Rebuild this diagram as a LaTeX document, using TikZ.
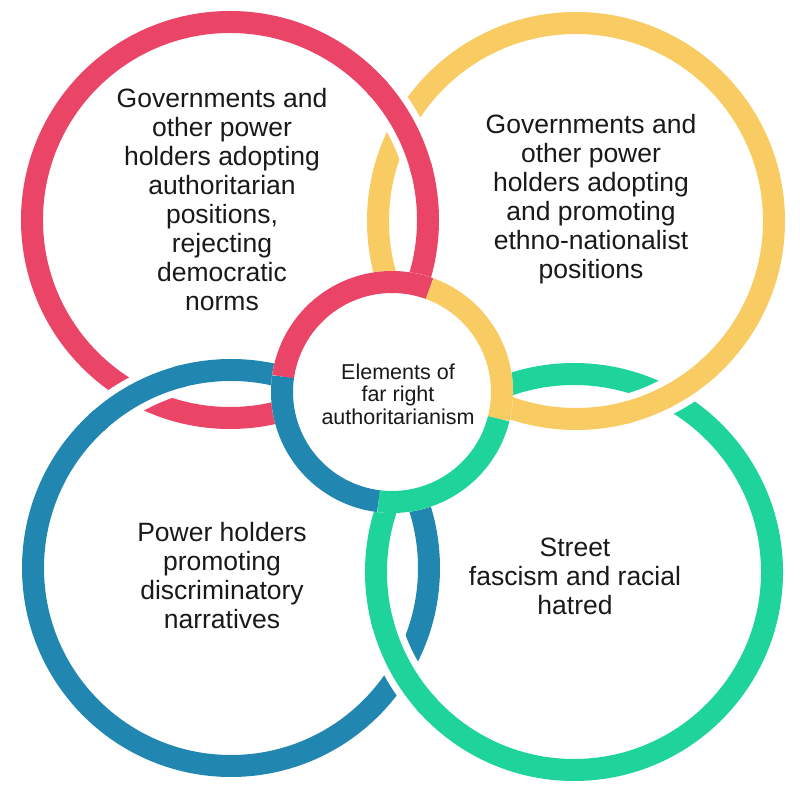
\documentclass[tikz,border=0pt]{standalone}
\usepackage{fontspec}
\setmainfont{Liberation Sans}
\definecolor{cred}{HTML}{EA4467}
\definecolor{cyel}{HTML}{F9CB63}
\definecolor{cblu}{HTML}{2187B0}
\definecolor{cgrn}{HTML}{1ED49B}
\begin{document}
\begin{tikzpicture}[x=1pt,y=1pt,
  ring/.style={line width=22pt},
  gapw/.style={line width=36pt,white},
  lbl/.style={align=center,font=\fontsize{26.5}{29}\selectfont,text=black!90},
  clbl/.style={align=center,font=\fontsize{21.5}{22.5}\selectfont,text=black!90}]
\useasboundingbox (0,0) rectangle (800,800);
\def\R{198}
\coordinate (R) at (230,580);
\coordinate (Y) at (576,579);
\coordinate (B) at (231,232);
\coordinate (G) at (574,228);
\coordinate (C) at (392,408);
% full big rings
\draw[ring,cred] (R) circle[radius=\R];
\draw[ring,cyel] (Y) circle[radius=\R];
\draw[ring,cblu] (B) circle[radius=\R];
\draw[ring,cgrn] (G) circle[radius=\R];
% over-crossings
\draw[gapw] (R) ++(16:\R) arc[start angle=16,end angle=41,radius=\R];
\draw[ring,cred] (R) ++(14:\R) arc[start angle=14,end angle=43,radius=\R];
\draw[gapw] (B) ++(106:\R) arc[start angle=106,end angle=131,radius=\R];
\draw[ring,cblu] (B) ++(104:\R) arc[start angle=104,end angle=133,radius=\R];
\draw[gapw] (G) ++(196:\R) arc[start angle=196,end angle=221,radius=\R];
\draw[ring,cgrn] (G) ++(194:\R) arc[start angle=194,end angle=223,radius=\R];
\draw[gapw] (Y) ++(-74:\R) arc[start angle=-74,end angle=-49,radius=\R];
\draw[ring,cyel] (Y) ++(-76:\R) arc[start angle=-76,end angle=-47,radius=\R];
% center ring
\fill[white] (C) circle[radius=121];
\draw[ring,cred] (C) ++(70:110) arc[start angle=70,end angle=172,radius=110];
\draw[ring,cblu] (C) ++(172:110) arc[start angle=172,end angle=263,radius=110];
\draw[ring,cgrn] (C) ++(263:110) arc[start angle=263,end angle=346,radius=110];
\draw[ring,cyel] (C) ++(346:110) arc[start angle=346,end angle=430,radius=110];
% texts
\node[lbl] (tr) at (222,600) {Governments and\\other power\\holders adopting\\authoritarian\\positions,\\rejecting\\democratic\\norms};
\node[lbl] (ty) at (591,601) {Governments and\\other power\\holders adopting\\and promoting\\ethno-nationalist\\positions};
\node[lbl] (tb) at (222,224) {Power holders\\promoting\\discriminatory\\narratives};
\node[lbl] (tg) at (575,224) {Street\\fascism and racial\\hatred};
\node[clbl] (tc) at (398,406) {Elements of\\far right\\authoritarianism};
\end{tikzpicture}
\end{document}
